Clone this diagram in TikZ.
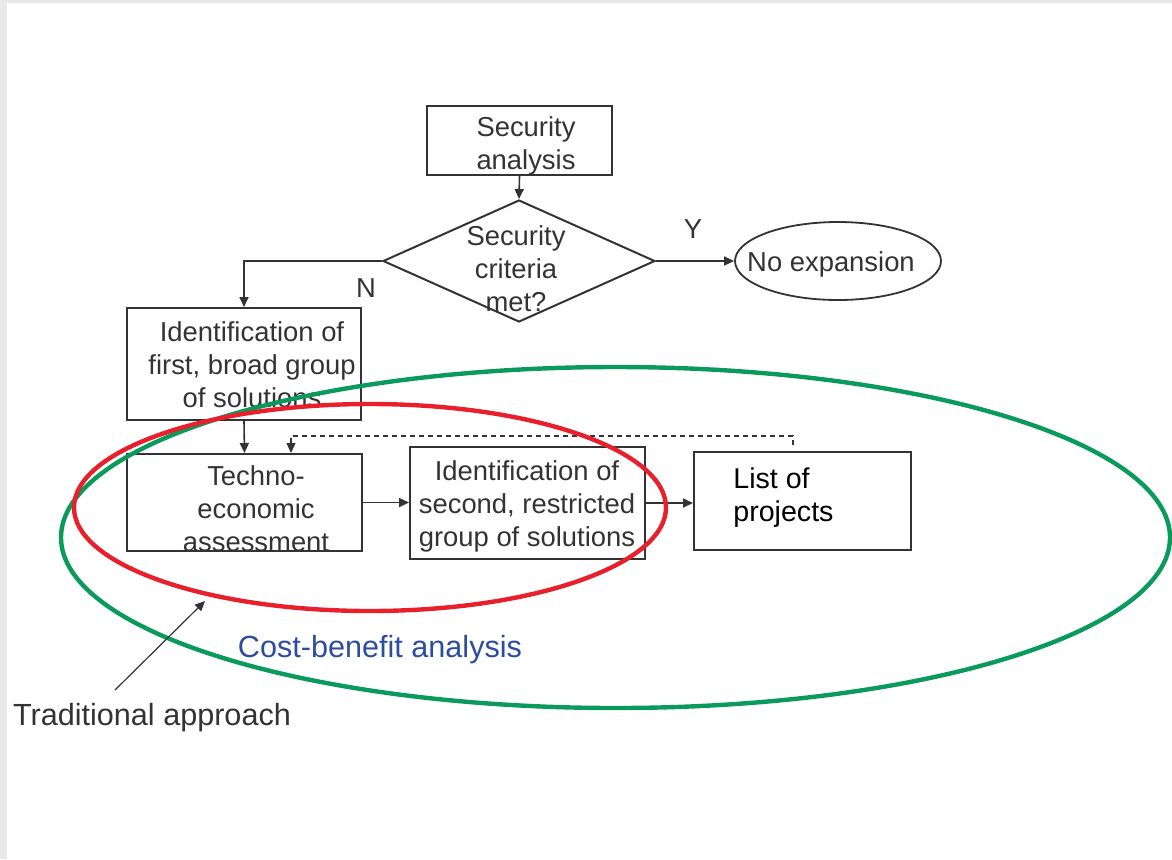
\documentclass[tikz,border=0pt]{standalone}
\usepackage{fontspec}
\setmainfont{Liberation Sans}
\usetikzlibrary{arrows.meta,shapes.geometric}
\definecolor{ink}{HTML}{333333}
\definecolor{frame}{HTML}{E9E9E9}
\definecolor{cbgreen}{HTML}{0A9A5C}
\definecolor{tradred}{HTML}{E8202B}
\definecolor{cbblue}{HTML}{2E4C9F}
\tikzset{
  box/.style={draw=ink, line width=1pt, inner sep=0pt},
  txt/.style={text=ink, align=center, inner sep=0pt, font=\fontsize{13.7pt}{16.5pt}\selectfont},
  dia/.style={draw=ink, line width=1pt, shape=diamond, inner sep=0pt},
  oval/.style={draw=ink, line width=0.9pt, shape=ellipse, inner sep=0pt},
  arr/.style={draw=ink, line width=0.8pt, -{Triangle[length=5pt,width=4.5pt]}},
  fb/.style={draw=ink, line width=0.6pt, dash pattern=on 2.5pt off 2pt, -{Triangle[length=5pt,width=4.5pt]}},
  lbl/.style={text=ink, inner sep=0pt, font=\fontsize{13.7pt}{16.5pt}\selectfont},
  big/.style={inner sep=0pt, font=\fontsize{15.3pt}{18pt}\selectfont},
  ring/.style={line width=2.2pt}
}
\begin{document}
\begin{tikzpicture}[x=0.5pt,y=-0.5pt]
\useasboundingbox (0,0) rectangle (1172,859);
% page edge
\fill[frame] (0,0) rectangle (1172,3);
\fill[frame] (0,0) rectangle (7,859);

% flowchart boxes
\node[box, minimum width=92.5pt, minimum height=34.5pt] (sec) at (519.5,140.5) {};
\node[txt] (secT) at (526,146) {Security\\analysis};

\node[dia, minimum width=136pt, minimum height=61pt] (crit) at (519,261) {};
\node[txt] (critT) at (516,269) {Security\\criteria\\met?};

\node[oval, minimum width=103pt, minimum height=39pt] (noexp) at (838,261) {};
\node[lbl] (noexpT) at (831,264) {No expansion};

\node[box, minimum width=117pt, minimum height=56pt] (b1) at (244,364) {};
\node[txt] (b1T) at (252,365) {Identification of\\first, broad group\\of solutions};

\node[box, minimum width=117.5pt, minimum height=48.5pt] (tea) at (244.5,502.5) {};
\node[txt] (teaT) at (256,509) {Techno-\\economic\\assessment};

\node[box, minimum width=117.5pt, minimum height=56pt] (b2) at (527.5,503) {};
\node[txt] (b2T) at (527,506.5) {Identification of\\second, restricted\\group of solutions};

\node[box, minimum width=108.5pt, minimum height=49pt] (lst) at (802.5,501) {};
\node[txt, text=black, align=left, anchor=west, font=\fontsize{14.3pt}{16.5pt}\selectfont] (lstT) at (733,498) {List of\\projects};

% decision labels
\node[lbl] (yl) at (693,229) {Y};
\node[lbl] (nl) at (366,288) {N};

% connectors
\draw[arr] (sec.south) -- (crit.north);
\draw[arr] (crit.east) -- (noexp.west);
\draw[arr] (crit.west) -| (b1.north);
\draw[arr] (b1.south) -- (tea.north);
\draw[arr] (tea.east) -- (tea.east -| b2.west);
\draw[arr] (b2.east) -- (b2.east -| lst.west);

% feedback from the project list
\coordinate (fbS) at (793,445);
\coordinate (fbC) at (291,436);
\draw[fb] (fbS) |- (fbC) -- (fbC |- tea.north);

% scope rings
\draw[cbgreen, ring] (615.5,537.5) ellipse [x radius=277.25pt, y radius=85.25pt];
\draw[tradred, ring] (370,507.5) ellipse [x radius=148pt, y radius=51.75pt];

\node[big, text=cbblue] (cba) at (380,650) {Cost-benefit analysis};
\node[big, text=ink] (trad) at (152,718) {Traditional approach};
\coordinate (ta) at (115,690);
\coordinate (tb) at (205,601);
\draw[draw=ink, line width=0.6pt, -{Triangle[length=5pt,width=4.5pt]}] (ta) -- (tb);
\end{tikzpicture}
\end{document}
